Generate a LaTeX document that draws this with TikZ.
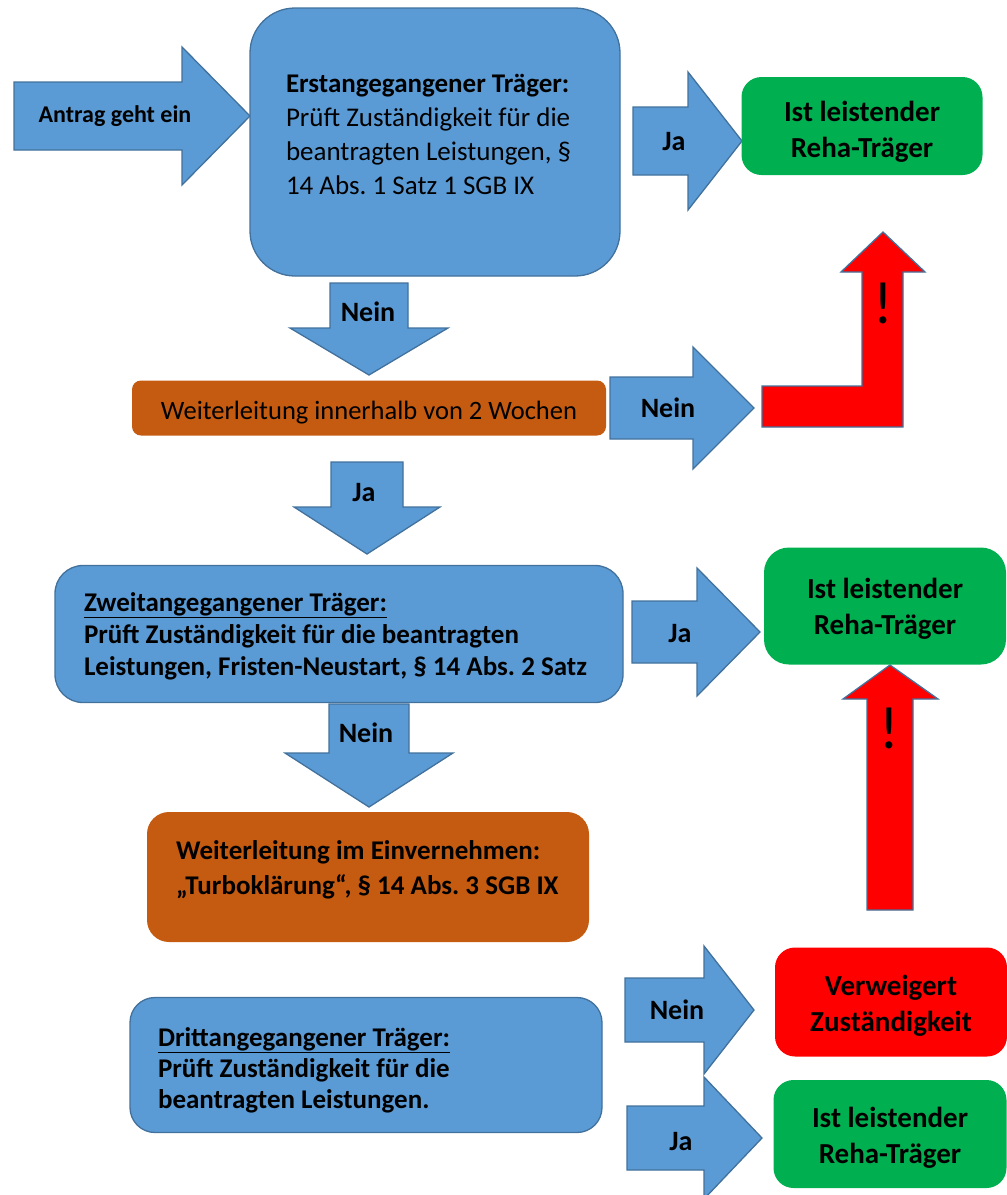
\documentclass[tikz,border=0pt]{standalone}
\usepackage{fontspec}
\setmainfont{Carlito}
\frenchspacing

\definecolor{boxblue}{HTML}{5B9BD5}
\definecolor{edgeblue}{HTML}{41719C}
\definecolor{okgreen}{HTML}{00B050}
\definecolor{stopred}{HTML}{FF0000}
\definecolor{fwdorange}{HTML}{C55A11}

\newcommand\bodyfont{\fontsize{27}{34}\selectfont}
\newcommand\labelfont{\fontsize{28}{30}\selectfont\bfseries}
\newcommand\resfont{\fontsize{29}{36}\selectfont\bfseries}

% block arrow to the right: tail x, neck x, tip x, mid y, half shaft, half head
\newcommand\rblock[6]{%
  \draw[blockarrow] (#1,#4-#5) -- (#2,#4-#5) -- (#2,#4-#6) -- (#3,#4)
    -- (#2,#4+#6) -- (#2,#4+#5) -- (#1,#4+#5) -- cycle;}
% block arrow downwards: mid x, half shaft, half head, top y, neck y, tip y
\newcommand\dblock[6]{%
  \draw[blockarrow] (#1-#2,#4) -- (#1+#2,#4) -- (#1+#2,#5) -- (#1+#3,#5)
    -- (#1,#6) -- (#1-#3,#5) -- (#1-#2,#5) -- cycle;}

\tikzset{
  blockarrow/.style={draw=edgeblue, fill=boxblue, line width=1.3pt},
  redarrow/.style={draw=edgeblue, fill=stopred, line width=1.3pt},
  pruefbox/.style={draw=edgeblue, fill=boxblue, line width=1.3pt, inner sep=0pt},
  fwdbox/.style={fill=fwdorange, inner sep=0pt},
  resultbox/.style={inner sep=0pt},
  boxtext/.style={inner sep=0pt, align=flush left, font=\bodyfont},
  restext/.style={inner sep=0pt, align=center, font=\resfont},
  arrowlabel/.style={font=\labelfont, inner sep=0pt},
  warnmark/.style={font=\fontsize{60}{60}\selectfont, inner sep=0pt}
}

\begin{document}
\begin{tikzpicture}[x=1pt, y=-1pt]
  \useasboundingbox (0,0) rectangle (1007,1195);

  % block arrows
  \rblock{14}{182}{250}{116}{34}{69}
  \rblock{633}{688}{742}{141}{34}{69}
  \dblock{369}{39}{79}{283}{328}{375}
  \rblock{610}{693}{754}{408}{31}{61}
  \dblock{367}{36}{73}{462}{507}{554}
  \rblock{632}{697}{760}{632}{31}{64}
  \dblock{369}{40}{84}{704}{753}{807}
  \rblock{625}{704}{754}{1010}{32}{64}
  \rblock{627}{704}{762}{1138}{32}{61}

  % red arrows
  \draw[redarrow] (762,386) -- (862,386) -- (862,272) -- (841,272) -- (883,232)
    -- (925,272) -- (903,272) -- (903,427) -- (762,427) -- cycle;
  \draw[redarrow] (867,910) -- (867,699) -- (843,699) -- (890,665) -- (938,699)
    -- (913,699) -- (913,910) -- cycle;
  \node[warnmark] (warnA) at (883,303) {!};
  \node[warnmark] (warnB) at (889,728) {!};

  % boxes
  \node[pruefbox, rounded corners=45pt, minimum width=370pt, minimum height=268pt]
    (erst) at (435,142) {};
  \node[boxtext, text width=298pt] (erst-text) at ([yshift=8pt]erst.center)
    {\textbf{Erstangegangener Träger:}\\Prüft Zuständigkeit für die\\
     beantragten Leistungen, §\\14 Abs. 1 Satz 1 SGB IX};
  \node[resultbox, fill=okgreen, rounded corners=20pt, minimum width=241pt,
    minimum height=98pt] (leistA) at (862,126) {};
  \node[restext] (leistA-text) at ([yshift=-6pt]leistA.center) {Ist leistender\\Reha-Träger};
  \node[fwdbox, rounded corners=9pt, minimum width=474pt, minimum height=55pt]
    (frist) at (369,408) {};
  \node[inner sep=0pt, font=\fontsize{26.5}{30}\selectfont] (frist-text)
    at ([yshift=-5pt]frist.center) {Weiterleitung innerhalb von 2 Wochen};
  \node[pruefbox, rounded corners=28pt, minimum width=568pt, minimum height=137pt]
    (zweit) at (339,634) {};
  \node[boxtext, text width=510pt, font=\fontsize{27}{32}\selectfont\bfseries]
    (zweit-text) at ([yshift=-2pt]zweit.center)
    {\underline{Zweitangegangener Träger:}\\Prüft Zuständigkeit für die beantragten\\
     Leistungen, Fristen-Neustart, § 14 Abs. 2 Satz};
  \node[resultbox, fill=okgreen, rounded corners=25pt, minimum width=242pt,
    minimum height=117pt] (leistB) at (885,606) {};
  \node[restext] (leistB-text) at ([yshift=-3pt]leistB.center) {Ist leistender\\Reha-Träger};
  \node[fwdbox, rounded corners=22pt, minimum width=442pt, minimum height=130pt]
    (turbo) at (368,877) {};
  \node[boxtext, text width=384pt, font=\fontsize{27}{35}\selectfont\bfseries]
    (turbo-text) at ([yshift=7pt]turbo.center)
    {Weiterleitung im Einvernehmen:\\„Turboklärung“, § 14 Abs. 3 SGB IX};
  \node[pruefbox, rounded corners=25pt, minimum width=472pt, minimum height=135pt]
    (dritt) at (366,1065) {};
  \node[boxtext, text width=416pt, font=\fontsize{27}{31}\selectfont\bfseries]
    (dritt-text) at ([yshift=-5pt]dritt.center)
    {\underline{Drittangegangener Träger:}\\Prüft Zuständigkeit für die\\
     beantragten Leistungen.};
  \node[resultbox, fill=stopred, rounded corners=20pt, minimum width=232pt,
    minimum height=109pt] (verw) at (891,1002) {};
  \node[restext] (verw-text) at ([yshift=-4pt]verw.center) {Verweigert\\Zuständigkeit};
  \node[resultbox, fill=okgreen, rounded corners=20pt, minimum width=233pt,
    minimum height=108pt] (leistC) at (890,1134) {};
  \node[restext] (leistC-text) at ([yshift=-4pt]leistC.center) {Ist leistender\\Reha-Träger};

  % arrow labels
  \node[font=\fontsize{24}{28}\selectfont\bfseries, inner sep=0pt] (antrag) at (115,116) {Antrag geht ein};
  \node[arrowlabel] (jaA) at (674,142) {Ja};
  \node[arrowlabel] (neinA) at (368,312) {Nein};
  \node[arrowlabel] (neinB) at (668,408) {Nein};
  \node[arrowlabel] (jaB) at (364,493) {Ja};
  \node[arrowlabel] (jaC) at (680,634) {Ja};
  \node[arrowlabel] (neinC) at (366,733) {Nein};
  \node[arrowlabel] (neinD) at (677,1010) {Nein};
  \node[arrowlabel] (jaD) at (681,1142) {Ja};
\end{tikzpicture}
\end{document}
